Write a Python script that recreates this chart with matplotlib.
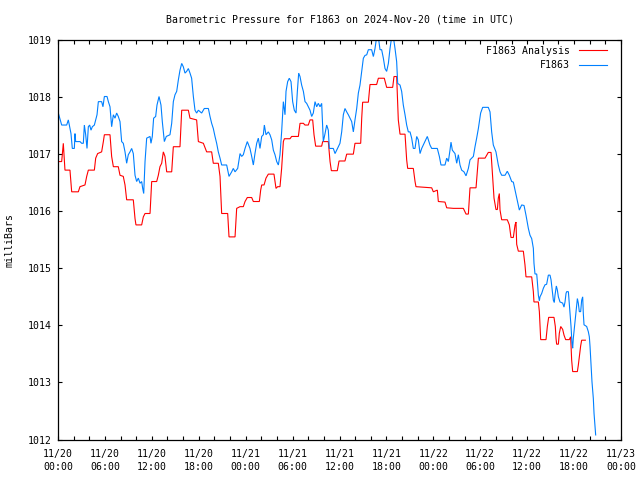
import matplotlib
matplotlib.use("Agg")
import matplotlib.pyplot as plt
from matplotlib.ticker import MultipleLocator, FixedLocator

# hours since 2024-11-20 00:00 UTC
blue_t = [0.04, 0.47, 1.11, 1.32, 1.66, 1.83, 2.09, 2.17, 2.26, 2.81, 3.03, 3.24, 3.37, 3.54, 3.71, 3.88,
          4.05, 4.22, 4.39, 4.65, 4.82, 4.99, 5.16, 5.58, 5.75, 5.93, 6.27, 6.44, 6.65, 6.86, 7.08, 7.29,
          7.50, 7.71, 7.93, 8.14, 8.35, 8.57, 8.78, 8.99, 9.21, 9.42, 9.63, 9.85, 10.06, 10.27, 10.49,
          10.70, 10.83, 10.96, 11.13, 11.34, 11.77, 11.89, 12.06, 12.23, 12.49, 12.66, 12.92, 13.17,
          13.34, 13.60, 13.85, 14.32, 14.54, 14.75, 14.96, 15.18, 15.39, 15.60, 15.82, 16.03, 16.24,
          16.45, 16.67, 16.88, 17.09, 17.31, 17.52, 17.73, 17.95, 18.37, 18.71, 19.23, 19.44, 19.65,
          19.86, 20.08, 20.29, 20.50, 20.72, 20.93, 21.57, 21.87, 22.21, 22.42, 22.64, 22.98,
          23.28, 23.49, 23.70, 23.92, 24.21, 24.55, 24.77, 24.98, 25.19, 25.41, 25.62, 25.83, 26.05,
          26.26, 26.39, 26.60, 26.90, 27.11, 27.33, 27.54, 27.75, 27.97, 28.18, 28.39, 28.60, 28.82,
          29.03, 29.16, 29.37, 29.58, 29.80, 30.01, 30.22, 30.44, 30.61, 30.78, 30.95, 31.16, 31.38,
          31.59, 31.80, 32.01, 32.23, 32.44, 32.65, 32.87, 33.08, 33.29, 33.51, 33.72, 33.93, 34.15,
          34.36, 34.57, 34.70, 35.21, 35.43, 35.64, 36.06, 36.28, 36.49, 36.70, 36.92, 37.13, 37.34,
          37.56, 37.77, 37.98, 38.20, 38.41, 38.62, 38.84, 39.05, 39.26, 39.48, 39.69, 40.11, 40.33,
          40.54, 40.75, 40.97, 41.18, 41.39, 41.61, 41.82, 42.03, 42.25, 42.46, 42.67, 42.89, 43.10,
          43.31, 43.44, 43.74, 43.95, 44.16, 44.38, 44.59, 44.80, 45.02, 45.23, 45.44, 45.66, 45.87,
          46.08,
          46.30, 46.51, 46.93, 47.23, 47.57, 47.79, 48.51, 48.77, 48.98, 49.49, 49.71, 49.92, 50.13,
          50.26, 50.43, 50.77, 50.99, 51.20, 51.41, 51.62, 51.92, 52.18, 52.48, 52.69, 53.12, 53.33,
          53.54, 53.76, 54.05, 54.31, 55.03, 55.25, 55.46, 55.67, 56.01, 56.31, 56.53, 56.74, 57.17,
          57.46, 57.72, 58.02, 58.23, 58.45, 58.66, 58.87, 59.00, 59.30, 59.60, 59.85, 60.15, 60.36,
          60.58,
          60.79, 60.87, 61.00, 61.22, 61.30, 61.43, 61.56, 61.64, 61.86, 62.07, 62.28, 62.49, 62.71,
          62.92, 63.05, 63.22, 63.35, 63.47, 63.56, 63.73, 63.86, 63.99, 64.20, 64.54, 64.71, 64.84,
          64.97, 65.05, 65.27, 65.48, 65.61, 65.73, 65.82, 65.90, 66.12, 66.25, 66.42, 66.54, 66.67,
          66.84, 66.97, 67.10, 67.18, 67.27, 67.61, 67.82, 67.95, 68.04, 68.16, 68.29, 68.46, 68.55,
          68.68, 68.76]
blue_v = [1017.72, 1017.51, 1017.51, 1017.60, 1017.36, 1017.10, 1017.10, 1017.36, 1017.22, 1017.22,
          1017.19, 1017.19, 1017.51, 1017.34, 1017.10, 1017.48, 1017.51, 1017.42, 1017.48, 1017.51,
          1017.60, 1017.69, 1017.92, 1017.92, 1017.83, 1018.01, 1018.01, 1017.92, 1017.83, 1017.48,
          1017.69, 1017.63, 1017.72, 1017.66, 1017.57, 1017.22, 1017.19, 1017.04, 1016.84, 1016.99,
          1017.04, 1017.10, 1017.01, 1016.63, 1016.52, 1016.58, 1016.49, 1016.52, 1016.40, 1016.31,
          1016.87, 1017.28, 1017.31, 1017.19, 1017.31, 1017.63, 1017.66, 1017.86, 1018.01, 1017.86,
          1017.57, 1017.22, 1017.31, 1017.34, 1017.54, 1017.92, 1018.04, 1018.10, 1018.30, 1018.47,
          1018.59, 1018.53, 1018.42, 1018.45, 1018.50, 1018.42, 1018.33, 1018.01, 1017.77, 1017.72,
          1017.77, 1017.72, 1017.80, 1017.80, 1017.66, 1017.54, 1017.45, 1017.31, 1017.19, 1017.04,
          1016.93, 1016.81, 1016.81, 1016.61, 1016.69, 1016.75, 1016.69, 1016.75,
          1017.01, 1016.96, 1016.99, 1017.10, 1017.22, 1017.10, 1016.96, 1016.81, 1017.01, 1017.19,
          1017.28, 1017.10, 1017.31, 1017.34, 1017.51, 1017.34, 1017.39, 1017.34, 1017.25, 1017.07,
          1016.99, 1016.87, 1016.81, 1016.99, 1017.39, 1017.92, 1017.69, 1018.10, 1018.27, 1018.33,
          1018.27, 1017.92, 1017.77, 1017.72, 1018.10, 1018.42, 1018.36, 1018.21, 1018.10, 1017.92,
          1017.89, 1017.83, 1017.77, 1017.66, 1017.72, 1017.92, 1017.83, 1017.89, 1017.83, 1017.89,
          1017.22, 1017.36, 1017.51, 1017.42, 1017.10, 1017.10, 1017.01, 1017.07, 1017.19, 1017.39,
          1017.69, 1017.80, 1017.74, 1017.69, 1017.63, 1017.57, 1017.39, 1017.60, 1017.80, 1018.07,
          1018.21, 1018.45, 1018.68, 1018.73, 1018.74, 1018.83, 1018.83, 1018.71, 1018.85, 1019.05,
          1019.05, 1018.83, 1018.83, 1018.68, 1018.50, 1018.45, 1018.59, 1018.85, 1019.05, 1019.05,
          1018.85, 1018.62, 1018.24, 1018.21, 1018.10, 1017.86, 1017.69, 1017.51, 1017.39, 1017.39,
          1017.28, 1017.10, 1017.10, 1017.31, 1017.25,
          1017.01, 1017.10, 1017.22, 1017.31, 1017.16, 1017.10, 1017.10, 1016.96, 1016.81, 1016.81,
          1016.93, 1016.87, 1017.07, 1017.21, 1017.07, 1017.01, 1016.84, 1016.99, 1016.81, 1016.72,
          1016.69, 1016.62, 1016.75, 1016.90, 1016.96, 1017.13, 1017.28, 1017.45, 1017.72, 1017.82,
          1017.82, 1017.74, 1017.39, 1017.16, 1017.04, 1016.81, 1016.69, 1016.63, 1016.63, 1016.70,
          1016.63, 1016.52, 1016.51, 1016.37, 1016.23, 1016.11, 1016.02, 1016.11, 1016.10, 1015.93,
          1015.70, 1015.58, 1015.52,
          1015.35, 1015.09, 1014.90, 1014.90, 1014.77, 1014.53, 1014.43, 1014.50, 1014.56, 1014.65,
          1014.71, 1014.72, 1014.88, 1014.88, 1014.80, 1014.59, 1014.44, 1014.40, 1014.53, 1014.69,
          1014.62, 1014.50, 1014.41, 1014.39, 1014.32, 1014.41, 1014.56, 1014.59, 1014.59, 1014.21,
          1013.98, 1013.69, 1013.60, 1013.77, 1014.06, 1014.24, 1014.47, 1014.39, 1014.24, 1014.24,
          1014.44, 1014.50, 1014.21, 1014.01, 1013.98, 1013.89, 1013.80, 1013.63, 1013.34, 1013.01,
          1012.72, 1012.46, 1012.22, 1012.08]

red_t = [0.04, 0.47, 0.68, 0.89, 1.53, 1.75, 2.60, 2.81, 3.45, 3.67, 3.88, 4.65, 4.82, 5.07, 5.58,
         5.80, 5.93, 6.65, 6.86, 7.08, 7.71, 7.93, 8.35, 8.57, 8.78, 9.63, 9.85, 9.97, 10.70, 10.91,
         11.13, 11.77, 11.98, 12.62, 12.83, 13.04, 13.26, 13.47, 13.68, 13.90, 14.54, 14.75, 15.60,
         15.82, 16.67, 16.88, 17.73, 17.95, 18.59, 19.01, 19.65, 19.86, 20.50, 20.72, 20.93, 21.70,
         21.87, 22.64, 22.85,
         23.28, 23.70, 23.92, 24.21, 24.77, 24.98, 25.75, 25.92, 26.05, 26.35, 26.60, 26.90, 27.62,
         27.88, 28.09, 28.39, 28.60, 28.82, 28.95, 29.67, 29.88, 30.74, 30.95, 31.38, 31.59, 32.01,
         32.23, 32.57, 32.74, 32.95, 33.72, 33.85, 34.57, 34.79, 34.96, 35.72, 35.94, 36.70, 36.92,
         37.77, 37.98, 38.71, 38.84, 38.96, 39.69, 39.90, 40.75, 40.97, 41.73, 42.03, 42.80, 42.97,
         43.31, 43.52, 43.74, 44.38, 44.59, 44.72, 45.44, 45.66, 45.78, 47.79, 48.00,
         48.51, 48.64, 49.49, 49.71, 50.56, 51.84, 52.18, 52.48, 52.69, 53.46, 53.76, 54.61, 55.03,
         55.38, 55.59, 55.76, 56.01, 56.19, 56.31, 56.44, 56.53, 56.74, 57.46, 57.72, 57.93, 58.23,
         58.45, 58.57, 58.66, 58.87, 59.51,
         59.72, 59.85, 60.58, 60.79, 60.87, 61.43, 61.56, 61.73, 62.41, 62.58, 62.75, 63.43, 63.60,
         63.69, 63.77, 63.99, 64.11, 64.29, 64.54, 64.71, 64.92, 65.39, 65.56, 65.69, 65.82, 66.42,
         66.54, 66.67, 66.84, 66.97, 67.44]
red_v = [1016.87, 1016.87, 1017.19, 1016.72, 1016.72, 1016.34, 1016.34, 1016.43, 1016.46, 1016.61,
         1016.72, 1016.72, 1016.93, 1017.01, 1017.04, 1017.22, 1017.34, 1017.34, 1016.96, 1016.78,
         1016.78, 1016.63, 1016.61, 1016.46, 1016.20, 1016.20, 1015.87, 1015.76, 1015.76, 1015.90,
         1015.96, 1015.96, 1016.52, 1016.52, 1016.63, 1016.78, 1016.84, 1017.04, 1016.96, 1016.69,
         1016.69, 1017.13, 1017.13, 1017.77, 1017.77, 1017.63, 1017.60, 1017.22, 1017.19, 1017.04,
         1017.04, 1016.84, 1016.84, 1016.61, 1015.96, 1015.96, 1015.55, 1015.55, 1016.05,
         1016.08, 1016.08, 1016.17, 1016.24, 1016.24, 1016.17, 1016.17, 1016.37, 1016.46, 1016.46,
         1016.58, 1016.65, 1016.65, 1016.40, 1016.43, 1016.43, 1016.75, 1017.22, 1017.27, 1017.27,
         1017.31, 1017.31, 1017.54, 1017.54, 1017.51, 1017.51, 1017.60, 1017.60, 1017.34, 1017.14,
         1017.14, 1017.22, 1017.22, 1016.87, 1016.71, 1016.71, 1016.88, 1016.88, 1017.00, 1017.00,
         1017.19, 1017.19, 1017.63, 1017.91, 1017.91, 1018.22, 1018.22, 1018.33, 1018.33, 1018.17,
         1018.17, 1018.36, 1018.36, 1017.60, 1017.35, 1017.35, 1016.90, 1016.75, 1016.75, 1016.52,
         1016.43, 1016.41, 1016.34,
         1016.37, 1016.17, 1016.16, 1016.06, 1016.05, 1016.05, 1015.95, 1015.95, 1016.41, 1016.41,
         1016.93, 1016.93, 1017.03, 1017.03, 1016.58, 1016.23, 1016.03, 1016.03, 1016.23, 1016.31,
         1016.02, 1015.85, 1015.85, 1015.76, 1015.54, 1015.54, 1015.76, 1015.81, 1015.42, 1015.30,
         1015.30,
         1015.06, 1014.85, 1014.85, 1014.59, 1014.41, 1014.41, 1014.24, 1013.75, 1013.75, 1013.98,
         1014.14, 1014.14, 1013.98, 1013.77, 1013.67, 1013.67, 1013.86, 1013.98, 1013.93, 1013.83,
         1013.75, 1013.75, 1013.80, 1013.39, 1013.19, 1013.19, 1013.30, 1013.45, 1013.64, 1013.74,
         1013.74]

x_tick_hours = [0, 6, 12, 18, 24, 30, 36, 42, 48, 54, 60, 66, 72]
x_tick_labels = ["11/20\n00:00", "11/20\n06:00", "11/20\n12:00", "11/20\n18:00",
                 "11/21\n00:00", "11/21\n06:00", "11/21\n12:00", "11/21\n18:00",
                 "11/22\n00:00", "11/22\n06:00", "11/22\n12:00", "11/22\n18:00",
                 "11/23\n00:00"]
y_ticks = [1012, 1013, 1014, 1015, 1016, 1017, 1018, 1019]

title = "Barometric Pressure for F1863 on 2024-Nov-20 (time in UTC)"
series_labels = ["F1863 Analysis", "F1863"]

FS = 7.1
plt.rcParams['font.family'] = ['DejaVu Sans Mono']
plt.rcParams['font.size'] = FS

fig = plt.figure(figsize=(6.4, 4.8), dpi=100)
ax = fig.add_axes([58/640, 1 - 439.5/480, (621-58)/640, (439.5-40)/480])

ax.plot(red_t, red_v, color='#ff0000', lw=0.8, label=series_labels[0], solid_joinstyle='miter')
ax.plot(blue_t, blue_v, color='#0080ff', lw=0.8, label=series_labels[1], solid_joinstyle='miter')

ax.set_xlim(0, 72)
ax.set_ylim(1012, 1019)
ax.xaxis.set_major_locator(FixedLocator(x_tick_hours))
ax.set_xticklabels(x_tick_labels, linespacing=1.35)
ax.xaxis.set_minor_locator(MultipleLocator(2))
ax.set_yticks(y_ticks)
ax.set_yticklabels([str(v) for v in y_ticks])

ax.tick_params(axis='both', which='both', direction='in', top=True, right=True,
               length=3, width=0.8, labelsize=FS)
ax.tick_params(axis='x', which='major', pad=7)
ax.tick_params(axis='y', which='major', pad=4.5)
for s in ax.spines.values():
    s.set_linewidth(0.9)

ax.set_ylabel("milliBars", fontsize=FS, labelpad=14)
ax.yaxis.set_label_coords(-0.078, 0.5)
fig.text(0.531, 1 - 20/480, title, ha='center', va='center', fontsize=FS)

leg = ax.legend(loc='upper right', frameon=False, markerfirst=False, fontsize=FS,
                handlelength=2.9, handletextpad=0.9, labelspacing=0.42,
                borderaxespad=0.0, bbox_to_anchor=(0.983, 0.995))
for h in leg.legend_handles:
    h.set_linewidth(0.8)

fig.savefig("out.png", dpi=100)
